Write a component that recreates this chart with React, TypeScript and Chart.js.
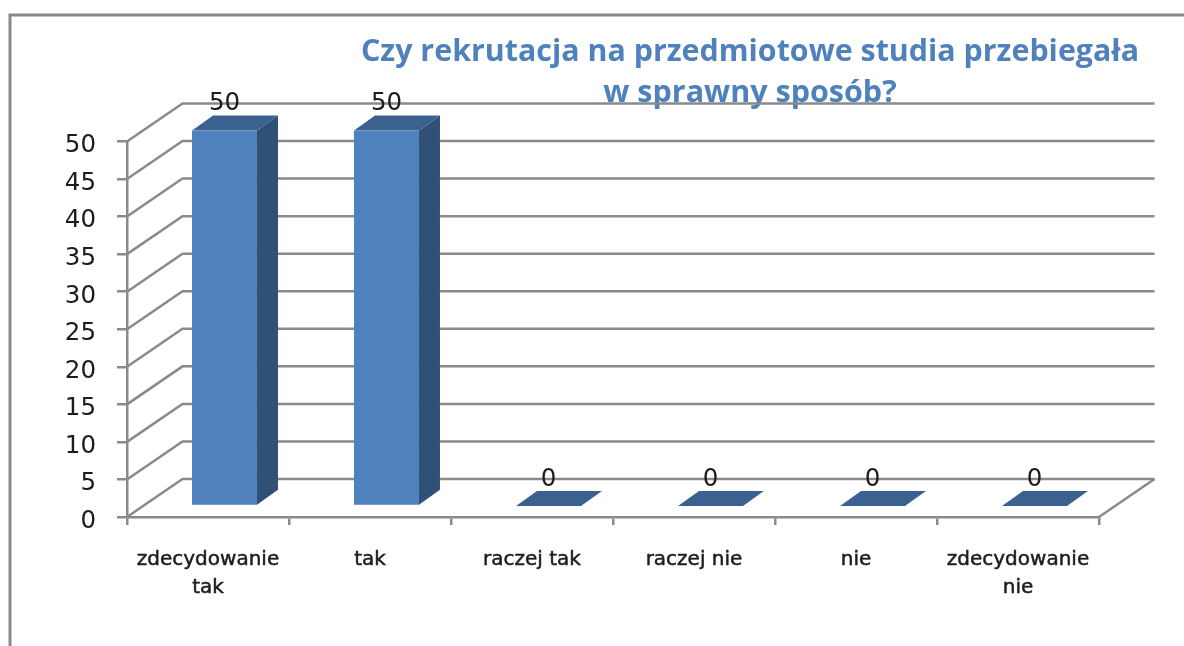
import React, { useEffect, useRef } from "react";
import { Chart, registerables } from "chart.js";

Chart.register(...registerables);

const titleLines = ["Czy rekrutacja na przedmiotowe studia przebiegała", "w sprawny sposób?"];
const categories = [["zdecydowanie", "tak"], "tak", "raczej tak", "raczej nie", "nie", ["zdecydowanie", "nie"]];
const values = [50, 50, 0, 0, 0, 0];
const yMin = 0;
const yMax = 50;
const yStep = 5;

const GRID = "#8a8a8a";
const FRONT = "#4f81bd";
const SIDE = "#2f5178";
const TOP = "#3b6191";
const TEXT = "#1c1c1c";

// depth of the 3D floor, and of the bars within it
const WALL = { dx: 55.5, dy: -38 };
const BAR_SHIFT = { dx: 16.5, dy: -11 };
const BAR_DEPTH = { dx: 21, dy: -15 };

const poly = (ctx: CanvasRenderingContext2D, pts: number[][], fill: string) => {
  ctx.beginPath();
  pts.forEach(([x, y], i) => (i ? ctx.lineTo(x, y) : ctx.moveTo(x, y)));
  ctx.closePath();
  ctx.fillStyle = fill;
  ctx.fill();
};

const frame3d = {
  id: "frame3d",
  afterLayout(chart: any) {
    if (chart.titleBlock) {
      chart.titleBlock.left = 361;
      chart.titleBlock.right = 1139;
    }
    // the reference's value-axis numbers sit a little below their tick marks
    chart.scales.y.getLabelItems(chart.chartArea).forEach((item: any) => {
      item.options.translation[1] += 4.5;
    });
  },
  beforeDraw(chart: any) {
    const { ctx, width, height } = chart;
    ctx.save();
    ctx.strokeStyle = GRID;
    ctx.lineWidth = 3;
    ctx.beginPath();
    ctx.moveTo(10, height);
    ctx.lineTo(10, 15);
    ctx.lineTo(width, 15);
    ctx.stroke();
    ctx.restore();
  },
  beforeDatasetsDraw(chart: any) {
    const { ctx, chartArea, scales } = chart;
    const { left, right } = chartArea;
    ctx.save();
    ctx.strokeStyle = GRID;
    ctx.lineWidth = 2.5;
    scales.y.ticks.forEach((t: any) => {
      const y = scales.y.getPixelForValue(t.value);
      ctx.beginPath();
      ctx.moveTo(left, y);
      ctx.lineTo(left + WALL.dx, y + WALL.dy);
      ctx.lineTo(right + WALL.dx, y + WALL.dy);
      ctx.stroke();
    });
    const y0 = scales.y.getPixelForValue(yMin);
    ctx.beginPath();
    ctx.moveTo(right, y0);
    ctx.lineTo(right + WALL.dx, y0 + WALL.dy);
    ctx.stroke();
    ctx.restore();
  },
  beforeDatasetDraw(chart: any, args: any) {
    const { ctx } = chart;
    ctx.save();
    ctx.translate(BAR_SHIFT.dx, BAR_SHIFT.dy);
    args.meta.data.forEach((bar: any) => {
      const l = bar.x - bar.width / 2;
      const r = bar.x + bar.width / 2;
      const { dx, dy } = BAR_DEPTH;
      if (bar.base - bar.y > 0) {
        poly(ctx, [[r, bar.y], [r + dx, bar.y + dy], [r + dx, bar.base + dy], [r, bar.base]], SIDE);
      }
      poly(ctx, [[l, bar.y], [l + dx, bar.y + dy], [r + dx, bar.y + dy], [r, bar.y]], TOP);
    });
  },
  afterDatasetDraw(chart: any) {
    chart.ctx.restore();
  },
  afterDatasetsDraw(chart: any) {
    const { ctx } = chart;
    const meta = chart.getDatasetMeta(0);
    ctx.save();
    ctx.font = "24.5px 'DejaVu Sans'";
    ctx.fillStyle = TEXT;
    ctx.textAlign = "center";
    ctx.textBaseline = "alphabetic";
    meta.data.forEach((bar: any, i: number) => {
      ctx.fillText(String(values[i]), bar.x + BAR_SHIFT.dx, bar.y + BAR_SHIFT.dy - 20);
    });
    ctx.restore();
  },
};

export default function App() {
  const ref = useRef<HTMLCanvasElement | null>(null);
  useEffect(() => {
    const chart = new Chart(ref.current!, {
      type: "bar",
      data: {
        labels: categories as any,
        datasets: [
          {
            data: values,
            backgroundColor: FRONT,
            borderWidth: 0,
            categoryPercentage: 1,
            barPercentage: 0.401,
            clip: false as any,
          },
        ],
      },
      plugins: [frame3d],
      options: {
        animation: false,
        responsive: false,
        devicePixelRatio: 1,
        layout: { padding: { left: 0, right: 85, top: 0, bottom: 0 } },
        plugins: {
          legend: { display: false },
          tooltip: { enabled: false },
          title: {
            display: true,
            text: titleLines,
            align: "center",
            color: "#4f81bd",
            font: { family: "'Open Sans'", size: 30.5, weight: "bold", lineHeight: 1.344 },
            padding: { top: 32, bottom: 27.5 },
          },
        },
        scales: {
          x: {
            afterFit: (s: any) => {
              s.height = 129;
            },
            border: { display: true, color: GRID, width: 2.5 },
            grid: { drawOnChartArea: false, drawTicks: true, tickLength: 8, color: GRID, lineWidth: 2.5 },
            ticks: {
              autoSkip: false,
              maxRotation: 0,
              padding: 21,
              color: TEXT,
              textStrokeColor: TEXT,
              textStrokeWidth: 0.5,
              font: { family: "'DejaVu Sans'", size: 20, lineHeight: 1.4 },
            },
          },
          y: {
            min: yMin,
            max: yMax,
            afterFit: (s: any) => {
              s.width = 127;
            },
            border: { display: true, color: GRID, width: 2.5 },
            grid: { drawOnChartArea: false, drawTicks: true, tickLength: 10, color: GRID, lineWidth: 2.5 },
            ticks: {
              stepSize: yStep,
              padding: 21,
              color: TEXT,
              font: { family: "'DejaVu Sans'", size: 24.5 },
            },
          },
        },
      },
    } as any);
    return () => chart.destroy();
  }, []);
  return (
    <div style={{ position: "fixed", left: 0, top: 0, width: 1184, height: 646, background: "#fff", overflow: "hidden" }}>
      <canvas ref={ref} width={1184} height={646} style={{ display: "block", filter: "blur(0.6px)" }} />
    </div>
  );
}
